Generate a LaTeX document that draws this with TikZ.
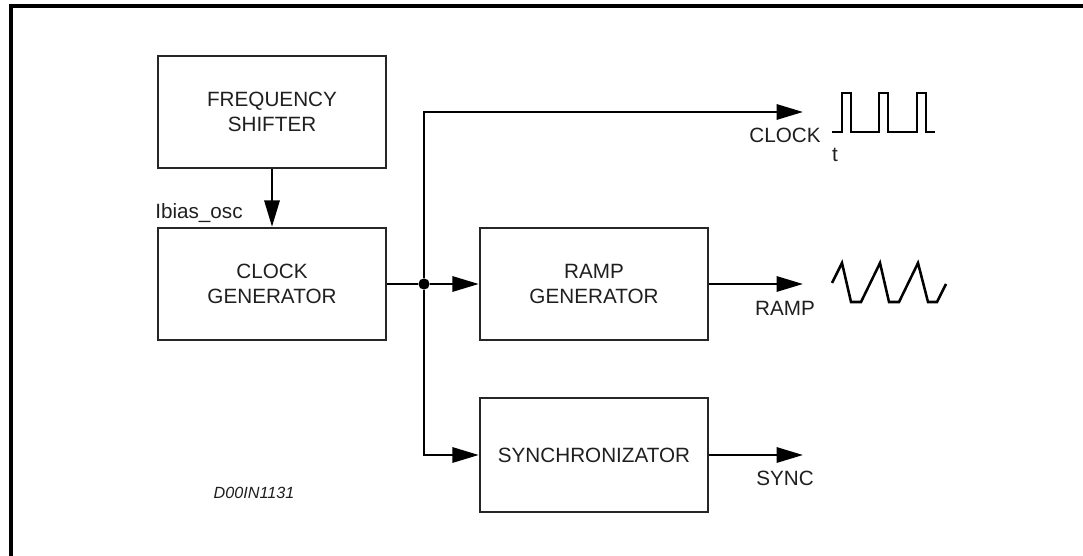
\documentclass[tikz,border=0pt]{standalone}
\usepackage{fontspec}
\setmainfont{Liberation Sans}
\usetikzlibrary{arrows.meta}

\begin{document}
\begin{tikzpicture}[
        x=0.025cm, y=-0.025cm,
        every node/.style={font=\fontsize{14.7}{18}\selectfont, text=black!88},
        block/.style={draw=black!85, line width=1.7pt, minimum width=5.7cm,
            minimum height=2.8cm, align=center, inner sep=0pt},
        wire/.style={line width=1.8pt},
        sig/.style={wire, -{Triangle[length=0.66cm,width=0.38cm]}},
        wave/.style={line width=1.8pt}
    ]

    \useasboundingbox (0,0) rectangle (1083,556);

    % =====================================================
    % Frame
    % =====================================================
    \draw[line width=2.8pt] (11,556) -- (11,6) -- (1083,6);

    % =====================================================
    % Blocks
    % =====================================================
    \node[block] (shifter) at (272,112) {FREQUENCY\\SHIFTER};
    \node[block] (clkgen) at (272,284) {CLOCK\\GENERATOR};
    \node[block] (ramp) at (594,284) {RAMP\\GENERATOR};
    \node[block, minimum height=2.85cm] (sync) at (594,455) {SYNCHRONIZATOR};

    % split point and output ends
    \node[circle, fill, inner sep=0pt, minimum size=0.28cm] (split) at (424,284) {};
    \coordinate (clkout) at (803,112);
    \coordinate (rampout) at (803,284);
    \coordinate (syncout) at (803,455);

    % =====================================================
    % Connections
    % =====================================================
    \draw[sig] (shifter) -- (clkgen);
    \draw[wire] (clkgen) -- (split);
    \draw[sig] (split) -- (ramp);
    \draw[sig] (split) |- (clkout);
    \draw[sig] (split) |- (sync);
    \draw[sig] (ramp) -- (rampout);
    \draw[sig] (sync) -- (syncout);

    % Labels
    \node (ibias) at (199,213) {Ibias\_osc};
    \node (clklbl) at (785,135) {CLOCK};
    \node (tlbl) at (835,155) {t};
    \node (ramplbl) at (785,308) {RAMP};
    \node (synclbl) at (785,478) {SYNC};
    \node[font=\fontsize{11.5}{14}\selectfont\itshape] (code) at (254,493) {D00IN1131};

    % =====================================================
    % Waveforms
    % =====================================================
    \draw[wave] (832,132) -- (842,132) -- (842,93) -- (851,93) -- (851,132)
        -- (879,132) -- (879,93) -- (888,93) -- (888,132)
        -- (917,132) -- (917,93) -- (926,93) -- (926,132) -- (935,132);

    \draw[wave] (832,283) -- (842,263) -- (851,302) -- (861,302)
        -- (880,263) -- (889,302) -- (899,302)
        -- (918,263) -- (928,302) -- (937,302) -- (946,284);

\end{tikzpicture}
\end{document}
